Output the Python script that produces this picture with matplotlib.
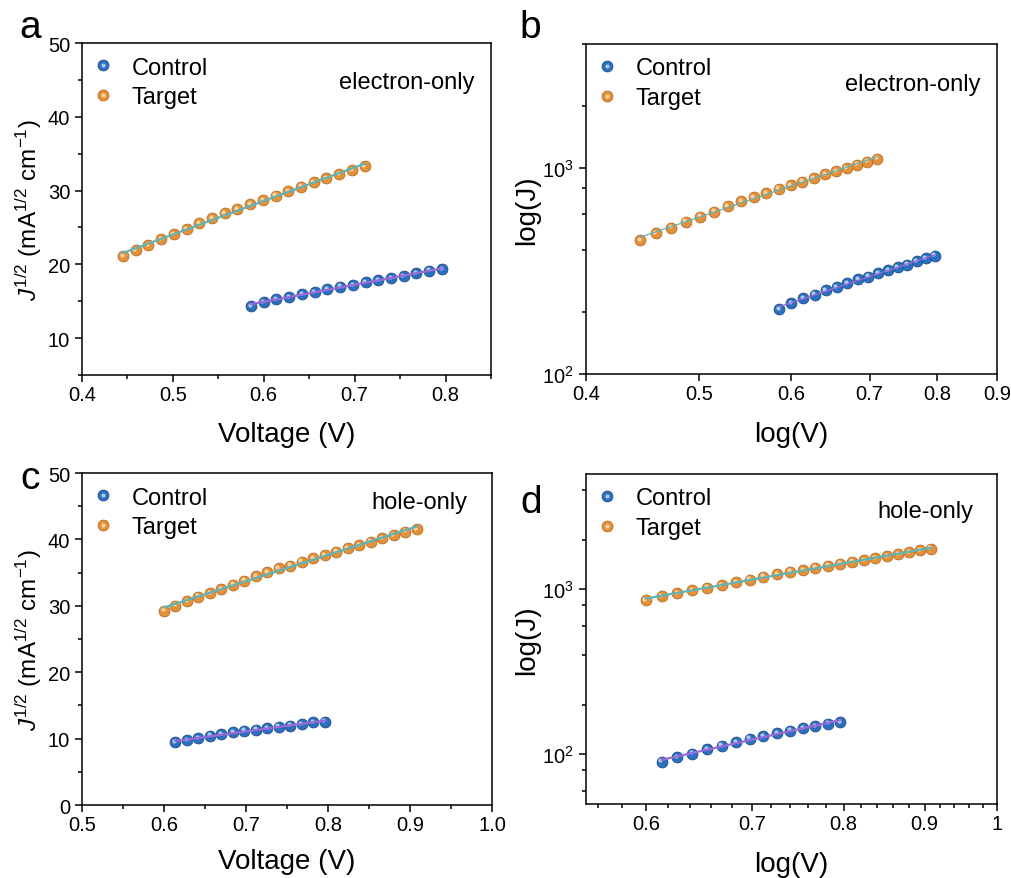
import matplotlib
matplotlib.use("Agg")
import matplotlib.pyplot as plt
import numpy as np
from matplotlib import ticker
from matplotlib.transforms import offset_copy
from matplotlib.legend_handler import HandlerTuple

plt.rcParams["font.family"] = ["Liberation Sans", "DejaVu Sans"]
plt.rcParams["mathtext.fontset"] = "custom"
plt.rcParams["mathtext.rm"] = "Liberation Sans"
plt.rcParams["mathtext.it"] = "Liberation Sans:italic"
plt.rcParams["mathtext.bf"] = "Liberation Sans:bold"

# ---------------------------------------------------------------------------
# Data
# ---------------------------------------------------------------------------

# electron-only device
V_EO_TARGET = [0.445, 0.459, 0.473, 0.487, 0.501, 0.515, 0.529, 0.543, 0.557, 0.571,
               0.585, 0.599, 0.613, 0.627, 0.641, 0.655, 0.669, 0.683, 0.697, 0.711]
SQRTJ_EO_TARGET = [21.16, 21.93, 22.65, 23.42, 24.10, 24.78, 25.55, 26.23, 26.90, 27.49,
                   28.17, 28.71, 29.30, 29.89, 30.52, 31.11, 31.65, 32.24, 32.78, 33.32]
J_EO_TARGET = [448, 481, 513, 549, 581, 614, 653, 688, 724, 756,
               794, 824, 859, 893, 932, 968, 1002, 1039, 1075, 1110]

V_EO_CONTROL = [0.586, 0.600, 0.614, 0.628, 0.642, 0.656, 0.670, 0.684,
                0.698, 0.712, 0.726, 0.740, 0.754, 0.768, 0.782, 0.796]
SQRTJ_EO_CONTROL = [14.38, 14.84, 15.29, 15.60, 15.97, 16.28, 16.64, 16.96,
                    17.23, 17.55, 17.86, 18.14, 18.45, 18.77, 19.13, 19.36]
J_EO_CONTROL = [207, 220, 234, 243, 255, 265, 277, 288,
                297, 308, 319, 329, 340, 352, 366, 375]

# hole-only device
V_HO_TARGET = [0.600, 0.614, 0.628, 0.642, 0.656, 0.670, 0.684, 0.698, 0.712, 0.726,
               0.740, 0.754, 0.768, 0.782, 0.796, 0.810, 0.824, 0.838, 0.852, 0.866,
               0.880, 0.894, 0.908]
SQRTJ_HO_TARGET = [29.27, 30.02, 30.67, 31.38, 31.93, 32.53, 33.18, 33.78, 34.44, 35.04,
                   35.64, 36.04, 36.64, 37.15, 37.65, 38.15, 38.65, 39.16, 39.66, 40.16,
                   40.66, 41.16, 41.57]
J_HO_TARGET = [862, 905, 944, 988, 1024, 1063, 1106, 1147, 1192, 1235,
               1278, 1309, 1352, 1391, 1430, 1470, 1510, 1551, 1592, 1634,
               1677, 1720, 1765]

V_HO_CONTROL = [0.614, 0.628, 0.642, 0.656, 0.670, 0.684, 0.698,
                0.712, 0.726, 0.740, 0.754, 0.768, 0.782, 0.796]
SQRTJ_HO_CONTROL = [9.44, 9.79, 10.04, 10.44, 10.69, 10.94, 11.19,
                    11.34, 11.60, 11.80, 11.95, 12.20, 12.45, 12.55]
J_HO_CONTROL = [90.2, 95.8, 100.8, 107.5, 113.0, 119.0, 124.5,
                129.0, 134.6, 139.2, 143.5, 148.8, 153.5, 156.7]

# ---------------------------------------------------------------------------
# Style
# ---------------------------------------------------------------------------

BLUE = "#2c6fbf"
BLUE_EDGE = "#1c4d8c"
BLUE_HL = "#bcd6f2"
ORANGE = "#e3913b"
ORANGE_EDGE = "#b86a1e"
ORANGE_HL = "#f8dcb5"
FIT_BLUE = "#9b6ad8"
FIT_ORANGE = "#5fb4b6"

FS_TICK = 14.5
FS_LABEL = 20
FS_YLAB = 17.5
FS_LEG = 17
FS_LETTER = 28


def balls(ax, x, y, color, edge, hl, fig):
    """Origin-like shaded sphere markers."""
    base, = ax.plot(x, y, "o", ms=7.8, mfc=color, mec=edge, mew=0.6,
                    ls="none", zorder=3)
    tr = offset_copy(ax.transData, fig=fig, x=-1.3, y=1.3, units="dots")
    top, = ax.plot(x, y, "o", ms=3.0, mfc=hl, mec="none", alpha=0.9,
                   ls="none", transform=tr, zorder=4)
    return base, top


def fit_line(ax, x, y, color, lw, logx=False):
    x = np.asarray(x, dtype=float)
    y = np.asarray(y, dtype=float)
    xe = np.array([x[0], x[-1]])
    if logx:
        k, b = np.polyfit(np.log10(x), np.log10(y), 1)
        ye = 10 ** (k * np.log10(xe) + b)
    else:
        k, b = np.polyfit(x, y, 1)
        ye = k * xe + b
    ax.plot(xe, ye, "-", color=color, lw=lw, zorder=5)


def style_axes(ax):
    for s in ax.spines.values():
        s.set_linewidth(1.1)
    ax.tick_params(which="both", direction="out", top=False, right=False,
                   labelsize=FS_TICK, width=1.1)
    ax.tick_params(which="major", length=5, pad=2.5)
    ax.tick_params(which="minor", length=3)
    ax.tick_params(axis="y", which="major", pad=3.5)


def add_legend(ax, h_ctrl, h_tgt):
    ax.legend([h_ctrl, h_tgt], ["Control", "Target"],
              handler_map={tuple: HandlerTuple(ndivide=1, pad=0)},
              loc="upper left", bbox_to_anchor=(-0.012, 0.995),
              frameon=False, fontsize=FS_LEG, handlelength=1.2,
              handletextpad=0.6, labelspacing=0.33, borderpad=0.3,
              borderaxespad=0.2)


fig = plt.figure(figsize=(10.11, 8.79), dpi=100)

ax_a = fig.add_axes([0.0811, 0.5722, 0.4045, 0.3777])
ax_b = fig.add_axes([0.5796, 0.5734, 0.4065, 0.3754])
ax_c = fig.add_axes([0.0811, 0.0830, 0.4055, 0.3777])
ax_d = fig.add_axes([0.5796, 0.0842, 0.4065, 0.3754])

ylab_sqrt = r"$J^{1/2}$ (mA$^{1/2}$ cm$^{-1}$)"

# ---- panel a ----
ax = ax_a
hc = balls(ax, V_EO_CONTROL, SQRTJ_EO_CONTROL, BLUE, BLUE_EDGE, BLUE_HL, fig)
ht = balls(ax, V_EO_TARGET, SQRTJ_EO_TARGET, ORANGE, ORANGE_EDGE, ORANGE_HL, fig)
fit_line(ax, V_EO_CONTROL, SQRTJ_EO_CONTROL, FIT_BLUE, 1.6)
fit_line(ax, V_EO_TARGET, SQRTJ_EO_TARGET, FIT_ORANGE, 1.6)
ax.set_xlim(0.4, 0.85)
ax.set_ylim(5, 50)
ax.xaxis.set_major_locator(ticker.MultipleLocator(0.1))
ax.xaxis.set_minor_locator(ticker.MultipleLocator(0.05))
ax.yaxis.set_major_locator(ticker.MultipleLocator(10))
ax.yaxis.set_minor_locator(ticker.MultipleLocator(5))
ax.xaxis.set_major_formatter(ticker.FormatStrFormatter("%.1f"))
ax.set_xlabel("Voltage (V)", fontsize=FS_LABEL)
ax.set_ylabel(ylab_sqrt, fontsize=FS_YLAB)
ax.text(0.961, 0.883, "electron-only", transform=ax.transAxes,
        ha="right", va="center", fontsize=FS_LEG)
add_legend(ax, hc, ht)

# ---- panel b ----
ax = ax_b
hc = balls(ax, V_EO_CONTROL, J_EO_CONTROL, BLUE, BLUE_EDGE, BLUE_HL, fig)
ht = balls(ax, V_EO_TARGET, J_EO_TARGET, ORANGE, ORANGE_EDGE, ORANGE_HL, fig)
fit_line(ax, V_EO_CONTROL, J_EO_CONTROL, FIT_BLUE, 0.9, logx=True)
fit_line(ax, V_EO_TARGET, J_EO_TARGET, FIT_ORANGE, 0.9, logx=True)
ax.set_xscale("log")
ax.set_yscale("log")
ax.set_xlim(0.4, 0.9)
ax.set_ylim(100, 4000)
ax.xaxis.set_major_locator(ticker.FixedLocator([0.4, 0.5, 0.6, 0.7, 0.8, 0.9]))
ax.xaxis.set_major_formatter(ticker.FormatStrFormatter("%.1f"))
ax.xaxis.set_minor_locator(ticker.NullLocator())
ax.yaxis.set_major_locator(ticker.LogLocator(base=10))
ax.yaxis.set_minor_locator(ticker.LogLocator(base=10, subs=(2, 4, 6, 8)))
ax.yaxis.set_minor_formatter(ticker.NullFormatter())
ax.set_xlabel("log(V)", fontsize=FS_LABEL)
ax.set_ylabel("log(J)", fontsize=FS_LABEL)
ax.text(0.959, 0.879, "electron-only", transform=ax.transAxes,
        ha="right", va="center", fontsize=FS_LEG)
add_legend(ax, hc, ht)

# ---- panel c ----
ax = ax_c
hc = balls(ax, V_HO_CONTROL, SQRTJ_HO_CONTROL, BLUE, BLUE_EDGE, BLUE_HL, fig)
ht = balls(ax, V_HO_TARGET, SQRTJ_HO_TARGET, ORANGE, ORANGE_EDGE, ORANGE_HL, fig)
fit_line(ax, V_HO_CONTROL, SQRTJ_HO_CONTROL, FIT_BLUE, 1.6)
fit_line(ax, V_HO_TARGET, SQRTJ_HO_TARGET, FIT_ORANGE, 1.6)
ax.set_xlim(0.5, 1.0)
ax.set_ylim(0, 50)
ax.xaxis.set_major_locator(ticker.MultipleLocator(0.1))
ax.xaxis.set_minor_locator(ticker.MultipleLocator(0.05))
ax.yaxis.set_major_locator(ticker.MultipleLocator(10))
ax.yaxis.set_minor_locator(ticker.MultipleLocator(5))
ax.xaxis.set_major_formatter(ticker.FormatStrFormatter("%.1f"))
ax.set_xlabel("Voltage (V)", fontsize=FS_LABEL)
ax.set_ylabel(ylab_sqrt, fontsize=FS_YLAB)
ax.text(0.939, 0.913, "hole-only", transform=ax.transAxes,
        ha="right", va="center", fontsize=FS_LEG)
add_legend(ax, hc, ht)

# ---- panel d ----
ax = ax_d
hc = balls(ax, V_HO_CONTROL, J_HO_CONTROL, BLUE, BLUE_EDGE, BLUE_HL, fig)
ht = balls(ax, V_HO_TARGET, J_HO_TARGET, ORANGE, ORANGE_EDGE, ORANGE_HL, fig)
fit_line(ax, V_HO_CONTROL, J_HO_CONTROL, FIT_BLUE, 1.6, logx=True)
fit_line(ax, V_HO_TARGET, J_HO_TARGET, FIT_ORANGE, 1.6, logx=True)
ax.set_xscale("log")
ax.set_yscale("log")
ax.set_xlim(0.55, 1.0)
ax.set_ylim(50, 5000)
ax.xaxis.set_major_locator(ticker.FixedLocator([0.6, 0.7, 0.8, 0.9, 1.0]))
ax.xaxis.set_major_formatter(ticker.FormatStrFormatter("%g"))
ax.xaxis.set_minor_locator(ticker.MultipleLocator(0.02))
ax.xaxis.set_minor_formatter(ticker.NullFormatter())
ax.yaxis.set_major_locator(ticker.LogLocator(base=10))
ax.yaxis.set_minor_locator(ticker.LogLocator(base=10, subs=(2, 4, 6, 8)))
ax.yaxis.set_minor_formatter(ticker.NullFormatter())
ax.set_xlabel("log(V)", fontsize=FS_LABEL)
ax.set_ylabel("log(J)", fontsize=FS_LABEL)
ax.text(0.942, 0.888, "hole-only", transform=ax.transAxes,
        ha="right", va="center", fontsize=FS_LEG)
add_legend(ax, hc, ht)

# ---- shared cosmetics ----
xlab_y = {ax_a: -0.179, ax_b: -0.182, ax_c: -0.169, ax_d: -0.182}
ylab_x = {ax_a: -0.13, ax_b: -0.144, ax_c: -0.13, ax_d: -0.144}
for ax in (ax_a, ax_b, ax_c, ax_d):
    style_axes(ax)
    ax.xaxis.label.set_va("center")
    ax.yaxis.label.set_va("center")
    ax.xaxis.set_label_coords(0.5, xlab_y[ax])
    ax.yaxis.set_label_coords(ylab_x[ax], 0.5)

fig.text(0.030, 0.968, "a", fontsize=FS_LETTER, ha="center", va="center")
fig.text(0.525, 0.968, "b", fontsize=FS_LETTER, ha="center", va="center")
fig.text(0.030, 0.455, "c", fontsize=FS_LETTER, ha="center", va="center")
fig.text(0.525, 0.428, "d", fontsize=FS_LETTER, ha="center", va="center")

fig.savefig("out.png", dpi=100)
